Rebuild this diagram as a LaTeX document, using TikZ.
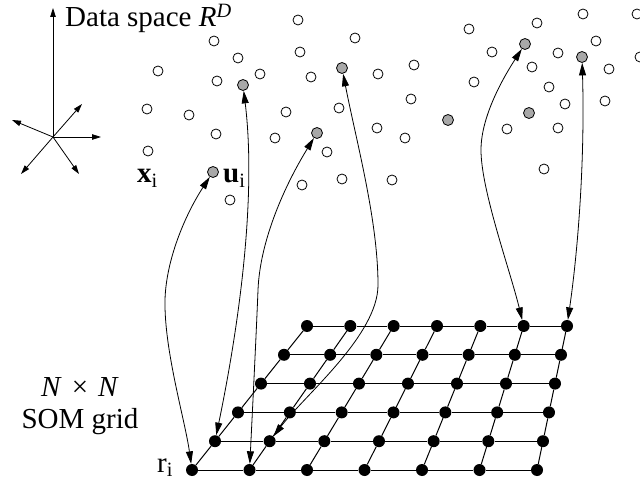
\documentclass[tikz,border=0pt]{standalone}
\usepackage{fontspec}
\setmainfont{Liberation Serif}
\usetikzlibrary{arrows.meta}
\definecolor{protogray}{RGB}{168,168,168}
\begin{document}
\begin{tikzpicture}[x=1pt,y=-1pt,
  datapt/.style={circle,draw=black,line width=0.8pt,fill=white,inner sep=0pt,minimum size=10pt},
  protopt/.style={circle,draw=black,line width=0.8pt,fill=protogray,inner sep=0pt,minimum size=11pt},
  gridpt/.style={circle,fill=black,inner sep=0pt,minimum size=12pt},
  gridline/.style={line width=1pt},
  link/.style={line width=0.8pt,{Triangle[length=12.5pt,width=7pt]}-{Triangle[length=12.5pt,width=7pt]}},
  axis/.style={line width=0.8pt,-{Triangle[length=9pt,width=5.5pt]}},
  lbl/.style={inner sep=0pt,font=\fontsize{29}{34}\selectfont}]
\fill[white] (0,0) rectangle (640,481);
\useasboundingbox (0,0) rectangle (640,481);

% axes
\coordinate (o) at (53,137);
\coordinate (ax1) at (53,8);
\coordinate (ax2) at (101,137);
\coordinate (ax3) at (82,104);
\coordinate (ax4) at (12,120);
\coordinate (ax5) at (21,174);
\coordinate (ax6) at (79,174);
\foreach \a in {ax1,ax2,ax3,ax4,ax5,ax6} \draw[axis] (o) -- (\a);

% data points
\foreach \x/\y [count=\n] in {298/20,214/41,238/58,300/52,355/38,217/81,260/74,311/77,414/65,378/74,411/99,286/112,339/108,216/134,275/138,327/152,377/128,405/138,302/185,342/179,392/180,230/200,158/71,147/109,189/115,148/151,469/29,537/23,583/14,637/14,492/52,558/53,596/41,532/67,609/69,640/57,474/82,549/87,565/104,605/101,507/129,558/128,544/169}
  \node[datapt] (d\n) at (\x,\y) {};

% prototypes
\node[protopt] (p1) at (213,172) {};
\node[protopt] (p2) at (243,85) {};
\node[protopt] (p3) at (317,133) {};
\node[protopt] (p4) at (342,68) {};
\node[protopt] (p5) at (448,120) {};
\node[protopt] (p6) at (525,44) {};
\node[protopt] (p7) at (582,57) {};
\node[protopt] (p8) at (529,113) {};

% grid nodes
\foreach \j in {0,...,5} {
  \foreach \i in {0,...,6} {
    \pgfmathsetmacro{\xa}{192+23*\j}
    \pgfmathsetmacro{\xb}{537+6*\j}
    \pgfmathsetmacro{\xx}{\xa+(\xb-\xa)*\i/6}
    \pgfmathsetmacro{\yy}{470-28.8*\j}
    \node[gridpt] (g-\i-\j) at (\xx,\yy) {};
  }
}
% grid lines
\foreach \j in {0,...,5} {
  \foreach \i [evaluate=\i as \k using int(\i+1)] in {0,...,5}
    \draw[gridline] (g-\i-\j) -- (g-\k-\j);
}
\foreach \i in {0,...,6} {
  \foreach \j [evaluate=\j as \k using int(\j+1)] in {0,...,4}
    \draw[gridline] (g-\i-\j) -- (g-\i-\k);
}

% links
\draw[link] (g-0-0) .. controls (185,420) and (164,350) .. (165,300)
                    .. controls (166,260) and (185,215) .. (p1);
\draw[link] (g-1-0) .. controls (252,420) and (256,340) .. (258,290)
                    .. controls (260,240) and (285,185) .. (p3);
\draw[link] (g-0-1) .. controls (238,330) and (257,200) .. (p2);
\draw[link] (g-1-1) .. controls (305,395) and (378,335) .. (378,285)
                    .. controls (378,220) and (356,140) .. (p4);
\draw[link] (g-5-5) .. controls (510,270) and (481,190) .. (481,150)
                    .. controls (481,115) and (505,75) .. (p6);
\draw[link] (g-6-5) .. controls (578,250) and (585,160) .. (p7);

% labels
\node[lbl,anchor=base west] (title) at (65,27) {Data space \textit{R}\textsuperscript{\textit{D}}};
\node[lbl,anchor=base west] (xlab) at (137,183) {\textbf{x}\textsubscript{i}};
\node[lbl,anchor=base west] (ulab) at (223,183) {\textbf{u}\textsubscript{i}};
\node[lbl,anchor=base west] (rlab) at (157,472) {r\textsubscript{i}};
\node[lbl,anchor=base] (som1) at (80,396) {\textit{N}\hspace{10pt}×\hspace{10pt}\textit{N}};
\node[lbl,anchor=base] (som2) at (80,428) {SOM grid};
\end{tikzpicture}
\end{document}
